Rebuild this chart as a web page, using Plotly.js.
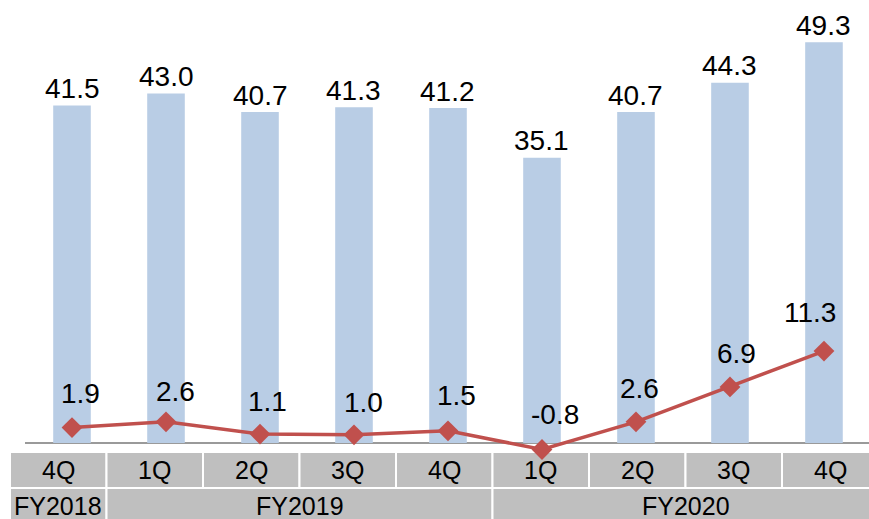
<!DOCTYPE html>
<html>
<head>
<meta charset="utf-8">
<script src="https://cdn.plot.ly/plotly-3.0.1.min.js"></script>
<style>html,body{margin:0;padding:0;background:#fff;}#chart{width:869px;height:519px;}</style>
</head>
<body>
<div id="chart"></div>
<script>
const quarters = ['4Q','1Q','2Q','3Q','4Q','1Q','2Q','3Q','4Q'];
const fiscalYears = ['FY2018','FY2019','FY2020'];
const fyQuarterCounts = [1, 4, 4];
const barValues = [41.5, 43.0, 40.7, 41.3, 41.2, 35.1, 40.7, 44.3, 49.3];
const lineValues = [1.9, 2.6, 1.1, 1.0, 1.5, -0.8, 2.6, 6.9, 11.3];

// label placement (pixel offsets from each marker), layout only
const lineLabelDx = [8, 9, 7, 10, 9, 13, 4, 7, -14];
const lineLabelDy = [34, 30, 33, 32, 35, 35, 33, 33, 39];

const W = 869, H = 519;
const xIdx = quarters.map((q, i) => i);
const FONT = 'Liberation Sans, Arial, sans-serif';
const px = x => x / W;
const py = y => (H - y) / H;

const xRange = [-0.766, 8.479];
const yRange = [-9.35, 54.49];

const traces = [
  {
    type: 'bar', x: xIdx, y: barValues, width: 0.4,
    marker: {color: '#b9cde5'}, hoverinfo: 'y'
  },
  {
    type: 'scatter', mode: 'lines+markers', x: xIdx, y: lineValues,
    line: {color: '#c0504d', width: 3.5},
    marker: {symbol: 'diamond', size: 16, color: '#c0504d'},
    cliponaxis: false, hoverinfo: 'y'
  }
];

const annotations = [];
barValues.forEach((v, i) => annotations.push({
  x: i, y: v, xref: 'x', yref: 'y', text: v.toFixed(1), showarrow: false,
  yanchor: 'middle', yshift: 17, font: {family: FONT, size: 28, color: '#000'}
}));
lineValues.forEach((v, i) => annotations.push({
  x: i, y: v, xref: 'x', yref: 'y', text: v.toFixed(1), showarrow: false,
  yanchor: 'middle', xshift: lineLabelDx[i], yshift: lineLabelDy[i],
  font: {family: FONT, size: 28, color: '#000'}
}));

const shapes = [{
  type: 'line', layer: 'below', xref: 'x', yref: 'y',
  x0: -0.5, x1: xRange[1], y0: 0, y1: 0,
  line: {color: '#9a9a9a', width: 2}
}];

// category table
const tableLeft = 10, cellW = 96.5;
const row1 = [452, 488], row2 = [488, 525];
const cellFill = '#bfbfbf';
quarters.forEach((q, i) => {
  const x0 = tableLeft + i * cellW, x1 = x0 + cellW;
  shapes.push({type: 'rect', layer: 'below', xref: 'paper', yref: 'paper',
    x0: px(x0), x1: px(x1), y0: py(row1[1]), y1: py(row1[0]),
    fillcolor: cellFill, line: {color: '#ffffff', width: 2}});
  annotations.push({xref: 'paper', yref: 'paper', x: px((x0 + x1) / 2), y: py(470),
    text: q, showarrow: false, xanchor: 'center', yanchor: 'middle',
    font: {family: FONT, size: 25, color: '#000'}});
});
let start = 0;
fiscalYears.forEach((fy, k) => {
  const x0 = tableLeft + start * cellW, x1 = x0 + fyQuarterCounts[k] * cellW;
  start += fyQuarterCounts[k];
  shapes.push({type: 'rect', layer: 'below', xref: 'paper', yref: 'paper',
    x0: px(x0), x1: px(x1), y0: py(row2[1]), y1: py(row2[0]),
    fillcolor: cellFill, line: {color: '#ffffff', width: 2}});
  annotations.push({xref: 'paper', yref: 'paper', x: px((x0 + x1) / 2), y: py(506),
    text: fy, showarrow: false, xanchor: 'center', yanchor: 'middle',
    font: {family: FONT, size: 25, color: '#000'}});
});

const layout = {
  width: W, height: H, autosize: false,
  margin: {l: 0, r: 0, t: 0, b: 0, pad: 0},
  paper_bgcolor: '#ffffff', plot_bgcolor: '#ffffff',
  showlegend: false,
  xaxis: {range: xRange, showgrid: false, zeroline: false, showticklabels: false, showline: false, fixedrange: true},
  yaxis: {range: yRange, showgrid: false, zeroline: false, showticklabels: false, showline: false, fixedrange: true},
  shapes: shapes,
  annotations: annotations,
  font: {family: FONT}
};

Plotly.newPlot('chart', traces, layout, {displayModeBar: false, staticPlot: true});
</script>
</body>
</html>
